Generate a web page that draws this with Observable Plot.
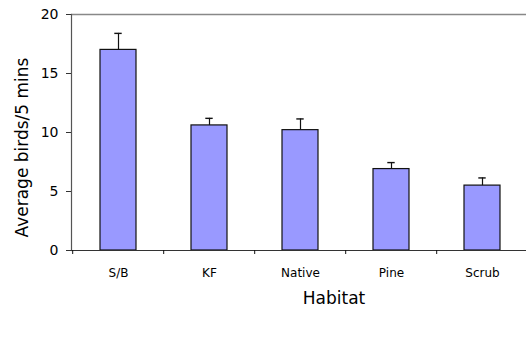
<!DOCTYPE html>
<html>
<head>
<meta charset="utf-8">
<script src="https://cdn.jsdelivr.net/npm/d3@7"></script>
<script src="https://cdn.jsdelivr.net/npm/@observablehq/plot@0.6"></script>
<style>
  html, body { margin: 0; padding: 0; background: #fff; }
  svg { display: block; }
</style>
</head>
<body>
<div id="chart"></div>
<script>
const habitats = ["S/B", "KF", "Native", "Pine", "Scrub"];
const means = [17.0, 10.6, 10.2, 6.9, 5.5];
const upper = [18.4, 11.2, 11.15, 7.45, 6.15];
const yTicks = [0, 5, 10, 15, 20];

const data = habitats.map((h, i) => ({habitat: h, mean: means[i], upper: upper[i]}));

const step = (529 - 71) / 5;

const chart = Plot.plot({
  width: 526,
  height: 337,
  marginLeft: 71,
  marginRight: 0,
  marginTop: 14,
  marginBottom: 87,
  style: {fontFamily: "'Comic Sans MS', 'DejaVu Sans', sans-serif", background: "#fff", color: "#000"},
  x: {domain: habitats, range: [71, 529], paddingInner: 0.6, paddingOuter: 0.3, label: null},
  y: {domain: [0, 20], label: null},
  marks: [
    Plot.ruleY([20], {stroke: "#888", strokeWidth: 1.5}),
    Plot.frame({anchor: "left", stroke: "#555", strokeWidth: 1.2}),
    Plot.barY(data, {x: "habitat", y: "mean", fill: "#9999ff", stroke: "#111", strokeWidth: 1.2}),
    Plot.ruleX(data, {x: "habitat", y1: "mean", y2: "upper", stroke: "#111", strokeWidth: 1.2}),
    Plot.tickY(data, {x: "habitat", y: "upper", insetLeft: 14.3, insetRight: 14.3, stroke: "#111", strokeWidth: 1.4}),
    Plot.ruleY([0], {stroke: "#333", strokeWidth: 1.2}),
    Plot.axisY({ticks: yTicks, tickSize: 5, tickPadding: 8, fontSize: 14, stroke: "#333", label: null}),
    Plot.axisX({tickSize: 4, tickFormat: null, dx: -step / 2, stroke: "#111", label: null}),
    Plot.axisX({tickSize: 0, tickPadding: 18, fontSize: 12, label: null}),
    Plot.text(["Habitat"], {frameAnchor: "bottom", dy: 53, fontSize: 17, textAnchor: "middle", dx: 35}),
    Plot.text(["Average birds/5 mins"], {frameAnchor: "left", textAnchor: "middle", rotate: -90, dx: -49, dy: 15, fontSize: 17, letterSpacing: 2.5})
  ]
});
document.getElementById("chart").appendChild(chart);
</script>
</body>
</html>
